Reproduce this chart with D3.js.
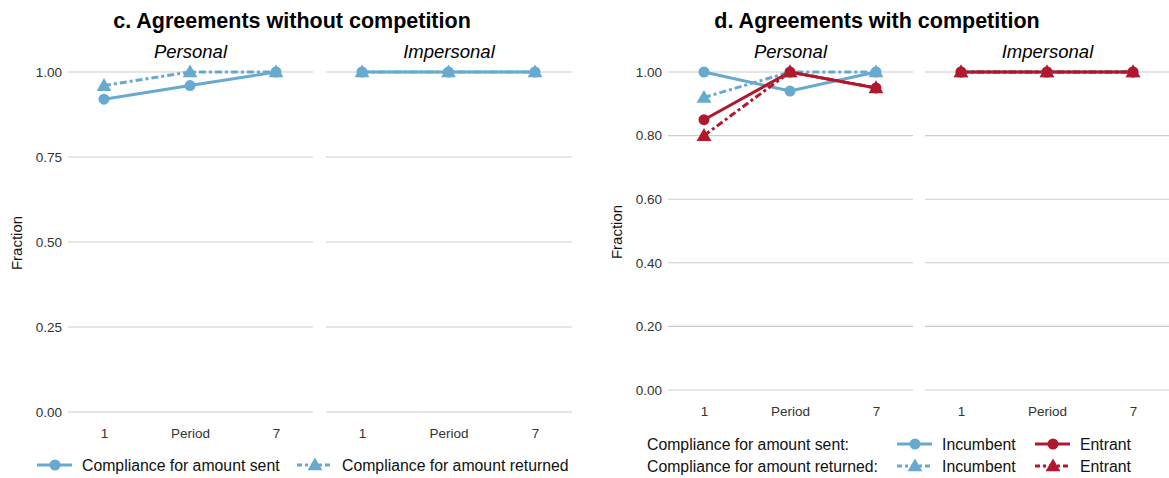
<!DOCTYPE html>
<html>
<head>
<meta charset="utf-8">
<script src="https://cdn.jsdelivr.net/npm/d3@7"></script>
<style>
  body { margin: 0; background: #fff; }
  svg { font-family: "Liberation Sans", Arial, sans-serif; }
</style>
</head>
<body>
<div id="container"></div>
<script>
/* DATA */
const periods = [1, 4, 7];
const periodLabels = ["1", "Period", "7"];
const facets = ["Personal", "Impersonal"];

// c. without competition
const noCompSent = { Personal: [0.92, 0.96, 1.00], Impersonal: [1.00, 1.00, 1.00] };
const noCompReturned = { Personal: [0.96, 1.00, 1.00], Impersonal: [1.00, 1.00, 1.00] };

// d. with competition
const incumbentSent = { Personal: [1.00, 0.94, 1.00], Impersonal: [1.00, 1.00, 1.00] };
const incumbentReturned = { Personal: [0.92, 1.00, 1.00], Impersonal: [1.00, 1.00, 1.00] };
const entrantSent = { Personal: [0.85, 1.00, 0.95], Impersonal: [1.00, 1.00, 1.00] };
const entrantReturned = { Personal: [0.80, 1.00, 0.95], Impersonal: [1.00, 1.00, 1.00] };

const ticksC = [0, 0.25, 0.5, 0.75, 1];
const ticksD = [0, 0.2, 0.4, 0.6, 0.8, 1];

/* CONSTANTS */
const width = 1169, height = 478;
const blue = "#67a9cf", red = "#b2182b";
const dash = "7,3,3,3";

const svg = d3.select("#container")
  .append("svg")
  .attr("width", width)
  .attr("height", height);

function drawChart(opt) {
  const g = svg.append("g");

  const y = d3.scaleLinear().domain([0, 1]).range([opt.y0, opt.y1]);

  // title
  g.append("text")
    .attr("x", opt.titleX).attr("y", 28)
    .attr("text-anchor", "middle")
    .attr("font-size", 21.5).attr("font-weight", "bold")
    .text(opt.title);

  // y label
  g.append("text")
    .attr("transform", `translate(${opt.ylabX},${(opt.y0 + opt.y1) / 2 + 1}) rotate(-90)`)
    .attr("text-anchor", "middle")
    .attr("font-size", 15)
    .attr("fill", "#111")
    .text("Fraction");

  // y tick labels
  g.append("g")
    .attr("transform", `translate(${opt.panels[0][0] - 3},0)`)
    .call(d3.axisLeft(y).tickValues(opt.ticks).tickFormat(d3.format(".2f")).tickSize(0))
    .call(a => a.select(".domain").remove())
    .call(a => a.selectAll("text")
      .attr("font-family", "Liberation Sans, Arial, sans-serif")
      .attr("font-size", 13.5).attr("fill", "#333"));

  opt.panels.forEach(([left, right], i) => {
    const facet = facets[i];
    const x = d3.scaleLinear().domain([1, 7]).range([left + 36, right - 37]);
    const p = g.append("g");

    // grid
    p.selectAll("line.grid")
      .data(opt.ticks)
      .join("line")
      .attr("class", "grid")
      .attr("x1", left).attr("x2", right)
      .attr("y1", d => y(d)).attr("y2", d => y(d))
      .attr("stroke", "#cccccc").attr("stroke-width", 1.1);

    // strip label
    p.append("text")
      .attr("x", (left + right) / 2).attr("y", 58)
      .attr("text-anchor", "middle")
      .attr("font-size", 18.5).attr("font-style", "italic")
      .text(facet);

    // x axis
    p.append("g")
      .attr("transform", `translate(0,${opt.xAxisY})`)
      .call(d3.axisBottom(x).tickValues(periods).tickFormat((d, k) => periodLabels[k]).tickSize(0))
      .call(a => a.select(".domain").remove())
      .call(a => a.selectAll("text")
        .attr("font-family", "Liberation Sans, Arial, sans-serif")
        .attr("font-size", 13.5).attr("fill", "#333"));

    const line = d3.line().x((d, k) => x(periods[k])).y(d => y(d));

    opt.series.forEach(s => {
      const vals = s.values[facet];
      p.append("path")
        .attr("d", line(vals))
        .attr("fill", "none")
        .attr("stroke", s.color)
        .attr("stroke-width", 3)
        .attr("stroke-dasharray", s.dashed ? dash : null);
    });
    opt.series.forEach(s => {
      const vals = s.values[facet];
      if (s.dashed) {
        p.selectAll(null)
          .data(vals)
          .join("path")
          .attr("d", d3.symbol(d3.symbolTriangle, 95)())
          .attr("transform", (d, k) => `translate(${x(periods[k])},${y(d) + 1})`)
          .attr("fill", s.color);
      } else {
        p.selectAll(null)
          .data(vals)
          .join("circle")
          .attr("cx", (d, k) => x(periods[k]))
          .attr("cy", d => y(d))
          .attr("r", 5.5)
          .attr("fill", s.color);
      }
    });
  });
  return g;
}

function legendKey(g, x, yy, color, dashed) {
  g.append("line")
    .attr("x1", x).attr("x2", x + 35)
    .attr("y1", yy).attr("y2", yy)
    .attr("stroke", color).attr("stroke-width", 3)
    .attr("stroke-dasharray", dashed ? "5,3,3,3" : null);
  if (dashed) {
    g.append("path")
      .attr("d", d3.symbol(d3.symbolTriangle, 95)())
      .attr("transform", `translate(${x + 18},${yy + 1})`)
      .attr("fill", color);
  } else {
    g.append("circle")
      .attr("cx", x + 18).attr("cy", yy).attr("r", 5.5)
      .attr("fill", color);
  }
}

// c.
const gc = drawChart({
  title: "c. Agreements without competition",
  titleX: 292,
  ylabX: 22,
  y0: 412, y1: 72,
  ticks: ticksC,
  xAxisY: 425,
  panels: [[68, 313], [326, 572]],
  series: [
    { values: noCompReturned, color: blue, dashed: true },
    { values: noCompSent, color: blue, dashed: false }
  ]
});

// d.
const gd = drawChart({
  title: "d. Agreements with competition",
  titleX: 877,
  ylabX: 622,
  y0: 390, y1: 72,
  ticks: ticksD,
  xAxisY: 403,
  panels: [[668, 913], [925, 1170]],
  series: [
    { values: incumbentReturned, color: blue, dashed: true },
    { values: incumbentSent, color: blue, dashed: false },
    { values: entrantSent, color: red, dashed: false },
    { values: entrantReturned, color: red, dashed: true }
  ]
});

/* LEGENDS */
const lc = svg.append("g").attr("font-size", 15.8).attr("fill", "#111");
legendKey(lc, 37, 465, blue, false);
lc.append("text").attr("x", 82).attr("y", 471).text("Compliance for amount sent");
legendKey(lc, 297, 465, blue, true);
lc.append("text").attr("x", 342).attr("y", 471).text("Compliance for amount returned");

const ld = svg.append("g").attr("font-size", 15.8).attr("fill", "#111");
ld.append("text").attr("x", 647).attr("y", 450).text("Compliance for amount sent:");
ld.append("text").attr("x", 647).attr("y", 472).text("Compliance for amount returned:");
legendKey(ld, 897, 444, blue, false);
legendKey(ld, 897, 466, blue, true);
ld.append("text").attr("x", 942).attr("y", 450).text("Incumbent");
ld.append("text").attr("x", 942).attr("y", 472).text("Incumbent");
legendKey(ld, 1035, 444, red, false);
legendKey(ld, 1035, 466, red, true);
ld.append("text").attr("x", 1080).attr("y", 450).text("Entrant");
ld.append("text").attr("x", 1080).attr("y", 472).text("Entrant");
</script>
</body>
</html>
